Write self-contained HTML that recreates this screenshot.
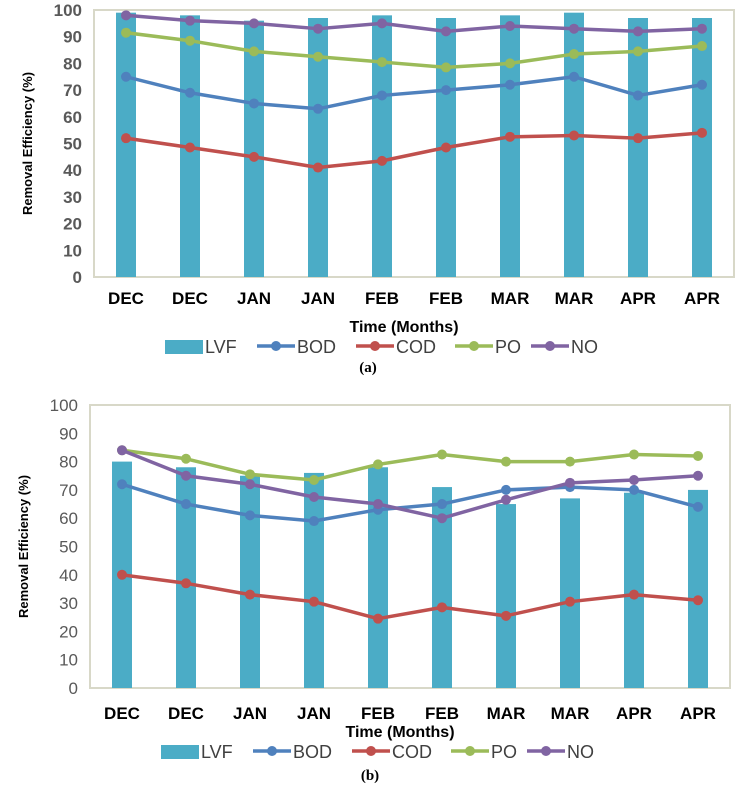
<!DOCTYPE html>
<html><head><meta charset="utf-8"><style>
body{margin:0;background:#fff;width:735px;height:790px;overflow:hidden}
svg{display:block;font-family:"Liberation Sans",sans-serif}
</style></head><body>
<svg id="svg" width="735" height="790"></svg>
<script>
const categories=["DEC","DEC","JAN","JAN","FEB","FEB","MAR","MAR","APR","APR"];
const yTicks=[0,10,20,30,40,50,60,70,80,90,100];
const seriesNames=["LVF","BOD","COD","PO","NO"];
const aLVF=[99,98,96,97,98,97,98,99,97,97];
const aBOD=[75,69,65,63,68,70,72,75,68,72];
const aCOD=[52,48.5,45,41,43.5,48.5,52.5,53,52,54];
const aPO=[91.5,88.5,84.5,82.5,80.5,78.5,80,83.5,84.5,86.5];
const aNO=[98,96,95,93,95,92,94,93,92,93];
const bLVF=[80,78,75,76,78,71,65,67,69,70];
const bBOD=[72,65,61,59,63,65,70,71,70,64];
const bCOD=[40,37,33,30.5,24.5,28.5,25.5,30.5,33,31];
const bPO=[84,81,75.5,73.5,79,82.5,80,80,82.5,82];
const bNO=[84,75,72,67.5,65,60,66.5,72.5,73.5,75];

const NS="http://www.w3.org/2000/svg";
const svg=document.getElementById('svg');
const colors={LVF:"#4bacc6",BOD:"#4f81bd",COD:"#c0504d",PO:"#9bbb59",NO:"#8064a2"};
function mk(tag,attrs,parent,text){const e=document.createElementNS(NS,tag);for(const k in attrs)e.setAttribute(k,attrs[k]);if(text!==undefined)e.textContent=text;(parent||svg).appendChild(e);return e;}

function chart(cfg){
  const g=mk('g',{});
  
  
  const L=cfg.left,R=cfg.right,T=cfg.top,B=cfg.bottom;
  const step=(R-L)/categories.length;
  const x=i=>L+step*(i+0.5);
  const y=v=>B-(v/100)*(B-T);
  const frame=mk('rect',{x:L,y:T,width:R-L,height:B-T,fill:'none',stroke:'#d8d8c8','stroke-width':2},g);
  
  
  yTicks.forEach(t=>{
    const tl=mk('text',{x:L-12,y:y(t)+6,'text-anchor':'end','font-size':17,'font-weight':cfg.boldTicks?'bold':'normal',fill:'#595959'},g,String(t));
    
    
  });
  cfg.LVF.forEach((v,i)=>{
    const b=mk('rect',{x:x(i)-10,y:y(v),width:20,height:B-y(v),fill:colors.LVF},g);
    
    
  });
  [["BOD",cfg.BOD],["COD",cfg.COD],["PO",cfg.PO],["NO",cfg.NO]].forEach(([n,arr])=>{
    const pl=mk('polyline',{points:arr.map((v,i)=>x(i)+','+y(v)).join(' '),fill:'none',stroke:colors[n],'stroke-width':3.5,'stroke-linejoin':'round'},g);
    
    
    arr.forEach((v,i)=>{
      const c=mk('circle',{cx:x(i),cy:y(v),r:5,fill:colors[n]},g);
      
      
    });
  });
  categories.forEach((c,i)=>{
    const t=mk('text',{x:x(i),y:cfg.xLabelY,'text-anchor':'middle','font-size':17,'font-weight':'bold',fill:'#000'},g,c);
    
    
  });
  const xt=mk('text',{x:(L+R)/2-10,y:cfg.xTitleY,'text-anchor':'middle','font-size':16,'font-weight':'bold',fill:'#000'},g,'Time (Months)');
  
  
  const yt=mk('text',{transform:`translate(${cfg.yTitleX},${(T+B)/2}) rotate(-90)`,'text-anchor':'middle','font-size':13,'font-weight':'bold',fill:'#000'},g,'Removal Efficiency (%)');
  
  
  // legend
  let lx=cfg.legendX;const ly=cfg.legendY;
  seriesNames.forEach(n=>{
    const lg=mk('g',{},g);
    
    
    if(n==="LVF"){mk('rect',{x:lx,y:ly-6,width:38,height:14,fill:colors.LVF},lg);}
    else{mk('line',{x1:lx,y1:ly,x2:lx+38,y2:ly,stroke:colors[n],'stroke-width':3.5},lg);mk('circle',{cx:lx+19,cy:ly,r:5,fill:colors[n]},lg);}
    mk('text',{x:lx+40,y:ly+7,'font-size':18,fill:'#404040'},lg,n);
    lx+=n==="LVF"?92:(n==="PO"?76:n.length*13+60);
  });
  const cap=mk('text',{x:cfg.capX,y:cfg.capY,'text-anchor':'middle','font-size':15,'font-weight':'bold','font-family':'Liberation Serif',fill:'#000'},g,cfg.cap);
  
  
}
chart({id:'chart-a',left:94,right:734,top:10,bottom:277,boldTicks:true,LVF:aLVF,BOD:aBOD,COD:aCOD,PO:aPO,NO:aNO,xLabelY:304,xTitleY:332,yTitleX:32,legendX:165,legendY:346,cap:'(a)',capX:368,capY:372});
chart({id:'chart-b',left:90,right:730,top:405,bottom:688,boldTicks:false,LVF:bLVF,BOD:bBOD,COD:bCOD,PO:bPO,NO:bNO,xLabelY:719,xTitleY:737,yTitleX:28,legendX:161,legendY:751,cap:'(b)',capX:370,capY:780});
</script>
</body></html>
